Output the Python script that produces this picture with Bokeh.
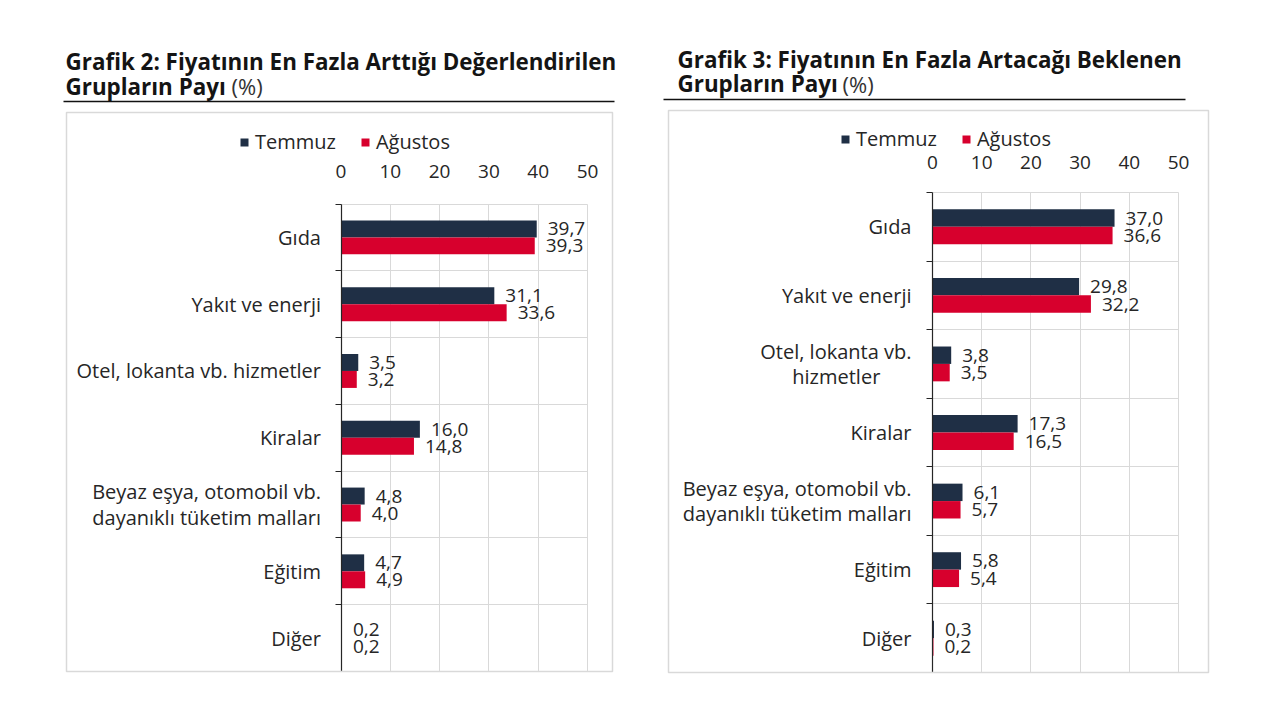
from bokeh.plotting import figure
from bokeh.models import (Range1d, FixedTicker, Legend, LegendItem, Label,
                          BoxAnnotation, ColumnDataSource)
from bokeh.layouts import row
from bokeh.embed import file_html
from bokeh.resources import INLINE
from bokeh.core.properties import value

# ---------------- data ----------------
series_names = ["Temmuz", "Ağustos"]
x_ticks = [0, 10, 20, 30, 40, 50]

categories_g2 = ["Gıda", "Yakıt ve enerji", "Otel, lokanta vb. hizmetler", "Kiralar",
                 "Beyaz eşya, otomobil vb.\ndayanıklı tüketim malları", "Eğitim", "Diğer"]
temmuz_g2 = [39.7, 31.1, 3.5, 16.0, 4.8, 4.7, 0.2]
agustos_g2 = [39.3, 33.6, 3.2, 14.8, 4.0, 4.9, 0.2]

categories_g3 = ["Gıda", "Yakıt ve enerji", "Otel, lokanta vb.\nhizmetler", "Kiralar",
                 "Beyaz eşya, otomobil vb.\ndayanıklı tüketim malları", "Eğitim", "Diğer"]
temmuz_g3 = [37.0, 29.8, 3.8, 17.3, 6.1, 5.8, 0.3]
agustos_g3 = [36.6, 32.2, 3.5, 16.5, 5.7, 5.4, 0.2]

title_g2 = ["Grafik 2: Fiyatının En Fazla Arttığı Değerlendirilen", "Grupların Payı"]
title_g3 = ["Grafik 3: Fiyatının En Fazla Artacağı Beklenen", "Grupların Payı"]
unit_label = "(%)"

# ---------------- style ----------------
NAVY = "#1f2f45"
RED = "#d7002d"
TXT = "#262626"
GRID = "#d9d9d9"
FONT = "Open Sans"
X_MAX = 50
NBSP = "\u00a0"


def fmt(v):
    return f"{v:.1f}".replace(".", ",")


def centre_lines(label):
    """Pad shorter lines of a multi-line tick label so they look centred
    under the longest line (the axis right-aligns each line)."""
    lines = label.split("\n")
    if len(lines) == 1:
        return label
    longest = max(len(s) for s in lines)
    out = []
    for s in lines:
        pad = int(round((longest - len(s)) * 0.8))
        out.append(s + NBSP * pad if pad > 2 else s)
    return "\n".join(out)


def make_panel(cats, tem, agu, titles, L):
    n = len(cats)
    W, H, ox, oy = L["w"], L["h"], L["ox"], 0
    fl, fr, ft, fb = L["frame"]          # page px of the plot area
    xs = (fr - fl) / X_MAX
    ys = (fb - ft) / n

    def X(px):
        return (px - fl) / xs

    def Y(py):
        return (py - ft) / ys

    p = figure(width=W, height=H, output_backend="svg", toolbar_location=None,
               x_range=Range1d(X(ox), X(ox + W)), y_range=Range1d(Y(oy + H), Y(oy)),
               x_axis_location="above", min_border=0,
               min_border_left=0, min_border_right=0,
               min_border_top=0, min_border_bottom=0)
    p.outline_line_color = None
    p.background_fill_color = "white"
    p.border_fill_color = "white"

    centers = [i + 0.5 for i in range(n)]
    off = 0.127
    src = ColumnDataSource(dict(
        y_t=[c - off for c in centers], y_a=[c + off for c in centers],
        tem=tem, agu=agu,
        tem_lbl=[fmt(v) for v in tem], agu_lbl=[fmt(v) for v in agu]))

    # grid
    p.xgrid.ticker = FixedTicker(ticks=x_ticks)
    p.ygrid.ticker = FixedTicker(ticks=list(range(n + 1)))
    p.grid.grid_line_color = GRID
    p.xgrid.bounds = (0, X_MAX)
    p.ygrid.bounds = (0, n)
    p.xgrid.cross_bounds = (0, n)
    p.ygrid.cross_bounds = (0, X_MAX)

    r1 = p.hbar(y="y_t", left=0, right="tem", height=2 * off, source=src,
                fill_color=NAVY, line_color=None)
    r2 = p.hbar(y="y_a", left=0, right="agu", height=2 * off, source=src,
                fill_color=RED, line_color=None)
    for xcol, ycol, tcol in (("tem", "y_t", "tem_lbl"), ("agu", "y_a", "agu_lbl")):
        p.text(x=xcol, y=ycol, text=tcol, source=src, x_offset=11,
               text_align="left", text_baseline="middle",
               text_font=value(FONT), text_font_size="19px", text_color=TXT)

    # axes (placed at the edges of the plot area)
    xa = p.xaxis[0]
    xa.fixed_location = 0
    xa.bounds = (0, X_MAX)
    xa.ticker = FixedTicker(ticks=x_ticks)
    xa.axis_line_color = None
    xa.major_tick_line_color = None
    xa.minor_tick_line_color = None
    xa.major_tick_in = 0
    xa.major_tick_out = 0
    xa.major_label_standoff = L["xstand"]
    xa.major_label_text_font = FONT
    xa.major_label_text_font_size = "19px"
    xa.major_label_text_color = TXT

    ya = p.yaxis[0]
    ya.fixed_location = 0
    ya.bounds = (0, n)
    ya.ticker = FixedTicker(ticks=centers, minor_ticks=list(range(n + 1)))
    ya.major_label_overrides = {c: centre_lines(cat) for c, cat in zip(centers, cats)}
    ya.major_tick_line_color = None
    ya.major_tick_in = 0
    ya.major_tick_out = 0
    ya.minor_tick_in = 0
    ya.minor_tick_out = 6
    ya.minor_tick_line_color = TXT
    ya.axis_line_color = TXT
    ya.axis_line_width = 1.2
    ya.major_label_standoff = L["ystand"]
    ya.major_label_text_font = FONT
    ya.major_label_text_font_size = "20px"
    ya.major_label_text_color = TXT
    ya.major_label_text_line_height = 0.93

    # legend
    legend = Legend(items=[LegendItem(label=series_names[0], renderers=[r1]),
                           LegendItem(label=series_names[1], renderers=[r2])],
                    orientation="horizontal", location=L["legend"],
                    padding=0, margin=0, spacing=24, label_standoff=6,
                    glyph_width=10, glyph_height=10,
                    border_line_color=None, background_fill_alpha=0,
                    label_text_font=FONT, label_text_font_size="20px",
                    label_text_color=TXT)
    p.add_layout(legend)

    # box around chart
    bx0, bx1, by0, by1 = L["box"]
    p.add_layout(BoxAnnotation(left=X(bx0), right=X(bx1), top=Y(by0), bottom=Y(by1),
                               fill_color=None, fill_alpha=0,
                               line_color=GRID, line_alpha=1, line_width=1.5))
    # title underline
    ux0, ux1, uy = L["under"]
    p.add_layout(BoxAnnotation(left=X(ux0), right=X(ux1), top=Y(uy - 0.8), bottom=Y(uy + 0.8),
                               fill_color="#111111", fill_alpha=1, line_color=None))
    # titles
    tx, b1, b2, ux = L["title"]
    for txt, bl in ((titles[0], b1), (titles[1], b2)):
        p.add_layout(Label(x=X(tx), y=Y(bl), text=txt, text_font=FONT,
                           text_font_style="bold", text_font_size="22.4px",
                           text_color="#141414", text_baseline="alphabetic",
                           text_align="left"))
    p.add_layout(Label(x=X(ux), y=Y(b2), text=unit_label, text_font=FONT,
                       text_font_size="22px", text_color="#333333",
                       text_baseline="alphabetic", text_align="left"))
    return p


L1 = dict(w=640, h=704, ox=0, frame=(340.5, 587, 203.5, 671), xstand=26, ystand=14,
          legend=(239, 549), box=(66, 612, 112, 671), under=(63, 614, 101),
          title=(65, 60.5, 85.5, 231))
L2 = dict(w=624, h=704, ox=640, frame=(932, 1178, 192, 672), xstand=24, ystand=15,
          legend=(200, 552), box=(668, 1208, 110, 672), under=(663, 1185, 99),
          title=(677, 59, 83, 842))

p1 = make_panel(categories_g2, temmuz_g2, agustos_g2, title_g2, L1)
p2 = make_panel(categories_g3, temmuz_g3, agustos_g3, title_g3, L2)

layout = row(p1, p2)
open("out.html", "w").write(file_html(layout, INLINE))
